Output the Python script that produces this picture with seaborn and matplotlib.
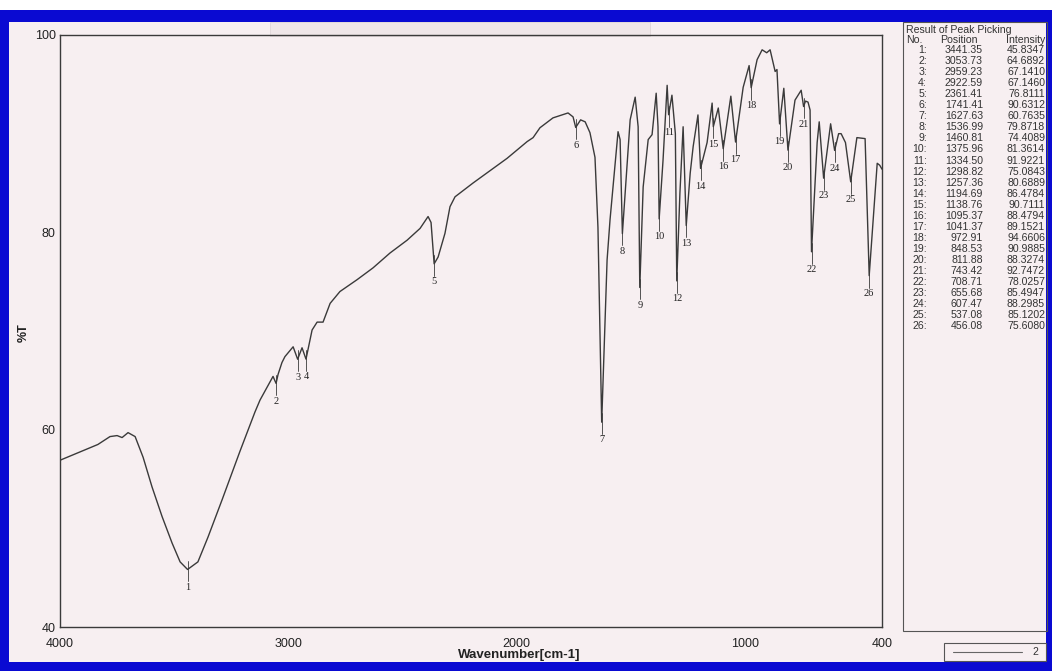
import matplotlib
matplotlib.use("Agg")
import matplotlib.pyplot as plt
from matplotlib.patches import Rectangle
from matplotlib.lines import Line2D
import seaborn as sns
import pandas as pd

# ---- traced spectrum (wavenumber, %T) ----
wavenumber = [4000, 3834, 3781, 3750, 3728, 3702, 3671, 3636, 3597, 3553, 3509, 3474,
              3441.35, 3396, 3352, 3290, 3212, 3146, 3124, 3067, 3053.73, 3045, 3028,
              3015, 2979, 2959.23, 2940, 2922.59, 2896, 2874, 2848, 2817, 2774, 2699,
              2629, 2555, 2480, 2423, 2388, 2375, 2361.41, 2344, 2314, 2292, 2270, 2191,
              2042, 1954, 1928, 1898, 1841, 1775, 1753, 1741.41, 1720, 1700, 1679, 1657,
              1644, 1627.63, 1604, 1591, 1578, 1556, 1547, 1536.99, 1517, 1503, 1481,
              1468, 1460.81, 1446, 1424, 1407, 1389, 1381, 1375.96, 1359, 1341, 1334.50,
              1320, 1305, 1298.82, 1285, 1271, 1257.36, 1240, 1227, 1206, 1194.69, 1166,
              1144, 1138.76, 1117, 1095.37, 1062, 1041.37, 1008, 982, 972.91, 947, 925,
              905, 890, 868, 860, 848.53, 830, 811.88, 781, 754, 743.42, 735, 724, 715,
              708.71, 684, 675, 655.68, 625, 607.47, 590, 579, 560, 537.08, 510, 474,
              456.08, 421, 410, 400]
transmittance = [56.9, 58.5, 59.3, 59.4, 59.2, 59.7, 59.3, 57.2, 54.2, 51.2, 48.5, 46.6,
                 45.83, 46.6, 49.1, 52.9, 57.8, 61.8, 63.0, 65.4, 64.69, 65.6, 66.8,
                 67.4, 68.4, 67.14, 68.3, 67.15, 70.1, 70.9, 70.9, 72.8, 74.0, 75.2,
                 76.4, 77.9, 79.2, 80.4, 81.6, 81.0, 76.81, 77.5, 79.9, 82.6, 83.6, 85.0,
                 87.5, 89.2, 89.6, 90.6, 91.6, 92.1, 91.7, 90.63, 91.4, 91.2, 90.1, 87.6,
                 80.5, 60.76, 77.2, 81.3, 84.6, 90.2, 89.4, 79.87, 86.6, 91.4, 93.7,
                 90.7, 74.41, 84.6, 89.4, 89.9, 94.1, 90.7, 81.36, 87.3, 94.9, 91.92,
                 93.9, 90.0, 75.08, 84.0, 90.7, 80.69, 86.0, 88.7, 91.9, 86.48, 89.1,
                 93.1, 90.71, 92.6, 88.48, 93.8, 89.15, 94.7, 96.9, 94.66, 97.5, 98.5,
                 98.2, 98.5, 96.3, 96.5, 90.99, 94.6, 88.33, 93.4, 94.4, 92.75, 93.3, 93.2, 92.4,
                 78.03, 89.1, 91.2, 85.49, 91.0, 88.30, 90.0, 90.0, 89.1, 85.12, 89.6, 89.5,
                 75.61, 87.0, 86.8, 86.4]

# ---- peak table ----
peak_no = list(range(1, 27))
peak_pos = [3441.35, 3053.73, 2959.23, 2922.59, 2361.41, 1741.41, 1627.63, 1536.99,
            1460.81, 1375.96, 1334.50, 1298.82, 1257.36, 1194.69, 1138.76, 1095.37,
            1041.37, 972.91, 848.53, 811.88, 743.42, 708.71, 655.68, 607.47, 537.08, 456.08]
peak_int = [45.8347, 64.6892, 67.1410, 67.1460, 76.8111, 90.6312, 60.7635, 79.8718,
            74.4089, 81.3614, 91.9221, 75.0843, 80.6889, 86.4784, 90.7111, 88.4794,
            89.1521, 94.6606, 90.9885, 88.3274, 92.7472, 78.0257, 85.4947, 88.2985,
            85.1202, 75.6080]
x_ticks = [4000, 3500, 3000, 2500, 2000, 1500, 1000, 500, 400]
x_ticklabels = ["4000", "", "3000", "", "2000", "", "1000", "", "400"]
y_ticks = [40, 50, 60, 70, 80, 90, 100]
y_ticklabels = ["40", "", "60", "", "80", "", "100"]

sns.set_theme(style="white")
plt.rcParams["font.family"] = ["Liberation Sans", "DejaVu Sans"]

W, H = 1052, 671
fig = plt.figure(figsize=(W / 100, H / 100), dpi=100)
fig.patch.set_facecolor("white")


def P(x, y):
    return x / W, 1 - y / H


def rect_px(x0, y0, x1, y1, **kw):
    fx0, fy1 = P(x0, y1)
    fig.add_artist(Rectangle((fx0, fy1), (x1 - x0) / W, (y1 - y0) / H,
                             transform=fig.transFigure, **kw))


page = "#f7eff1"
ink = "#3a3a3a"
rect_px(0, 10, W, H, facecolor="#0a0ad2", edgecolor="none", zorder=0)
rect_px(9, 22, 1046, 662, facecolor=page, edgecolor="none", zorder=0)
rect_px(270, 22, 650, 36, facecolor="#efe6e8", edgecolor="#e0d6d8", lw=0.6, zorder=0)

ax = fig.add_axes([60 / W, 1 - 627 / H, (882 - 60) / W, (627 - 35) / H])
ax.set_facecolor("none")
df = pd.DataFrame({"wn": wavenumber, "T": transmittance})
sns.lineplot(data=df, x="wn", y="T", ax=ax, sort=False, estimator=None,
             color=ink, linewidth=1.0)
ax.set_xlim(4000, 400)
ax.set_ylim(40, 100)
ax.set_xticks(x_ticks)
ax.set_xticklabels(x_ticklabels)
ax.set_yticks(y_ticks)
ax.set_yticklabels(y_ticklabels)
ax.tick_params(direction="in", length=6, width=0.8, color=ink, labelsize=9,
               labelcolor="#222222")
ax.tick_params(axis="x", pad=8)
ax.tick_params(axis="y", pad=3)
for s in ax.spines.values():
    s.set_color(ink)
    s.set_linewidth(1.0)
ax.set_xlabel("")
ax.set_ylabel("")

# peak markers and numbers
for n, pos, val in zip(peak_no, peak_pos, peak_int):
    ax.plot([pos, pos], [val + 0.9, val - 1.2], color=ink, lw=0.6)
    ax.text(pos, val - 1.35, str(n), ha="center", va="top", fontsize=7.5,
            family=["Liberation Serif", "DejaVu Serif"], color="#222222")

fig.text(*P(24, 333), "%T", rotation=90, ha="center", va="center",
         fontsize=9, fontweight="bold", color="#222222")
fig.text(*P(519, 655), "Wavenumber[cm-1]", ha="center", va="center",
         fontsize=9.5, fontweight="bold", color="#222222")

# peak table
rect_px(903, 22, 1047, 631, facecolor="none", edgecolor="#555555", lw=0.8, zorder=2)
tfs = 7.6
tcol = "#333333"
fig.text(*P(906, 30), "Result of Peak Picking", ha="left", va="center", fontsize=tfs, color=tcol)
fig.text(*P(906, 40), "No.", ha="left", va="center", fontsize=tfs, color=tcol)
fig.text(*P(959, 40), "Position", ha="center", va="center", fontsize=tfs, color=tcol)
fig.text(*P(1045, 40), "Intensity", ha="right", va="center", fontsize=tfs, color=tcol)
for i, (n, pos, val) in enumerate(zip(peak_no, peak_pos, peak_int)):
    y = 50 + i * 11.05
    fig.text(*P(927, y), f"{n}:", ha="right", va="center", fontsize=tfs, color=tcol)
    fig.text(*P(983, y), f"{pos:.2f}", ha="right", va="center", fontsize=tfs, color=tcol)
    fig.text(*P(1045, y), f"{val:.4f}", ha="right", va="center", fontsize=tfs, color=tcol)

# small legend box
rect_px(944, 643, 1046, 661, facecolor="none", edgecolor="#555555", lw=0.8, zorder=2)
fig.add_artist(Line2D([P(953, 652)[0], P(1022, 652)[0]], [P(953, 652)[1]] * 2,
                      transform=fig.transFigure, color="#666666", lw=0.8))
fig.text(*P(1035, 652), "2", ha="center", va="center", fontsize=7.5, color=tcol)

fig.savefig("out.png", dpi=100)
